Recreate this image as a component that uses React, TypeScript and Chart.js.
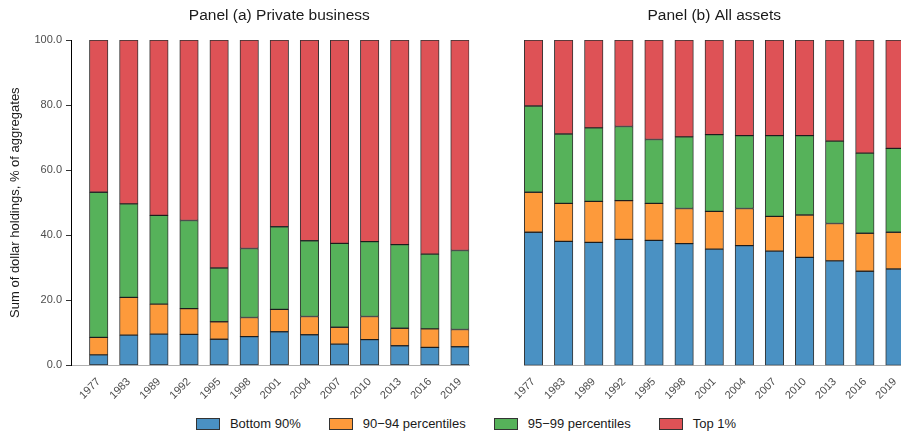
import React, { useEffect, useRef } from "react";
import { Chart, registerables } from "chart.js";

Chart.register(...registerables);
Chart.defaults.font.family = '"Liberation Sans", Arial, Helvetica, sans-serif';

// ---- data ----
const years = ["1977", "1983", "1989", "1992", "1995", "1998", "2001", "2004", "2007", "2010", "2013", "2016", "2019"];
const seriesNames = ["Bottom 90%", "90\u221294 percentiles", "95\u221299 percentiles", "Top 1%"];
const seriesColors = ["#4a91c3", "#fd9a3b", "#56b25a", "#de5256"];

// Panel (a) Private business (shares, % of aggregate)
const bizBottom90 = [3.2, 9.3, 9.6, 9.5, 8.0, 8.8, 10.3, 9.4, 6.5, 7.9, 6.0, 5.5, 5.7];
const biz90to94 = [5.4, 11.6, 9.2, 7.9, 5.4, 5.9, 6.9, 5.6, 5.2, 7.1, 5.4, 5.7, 5.3];
const biz95to99 = [44.6, 28.7, 27.3, 27.1, 16.5, 21.2, 25.4, 23.3, 25.8, 23.0, 25.7, 23.0, 24.3];
const bizTop1 = [46.8, 50.4, 53.9, 55.5, 70.1, 64.1, 57.4, 61.7, 62.5, 62.0, 62.9, 65.8, 64.7];

// Panel (b) All assets
const allBottom90 = [40.9, 38.1, 37.8, 38.7, 38.4, 37.4, 35.7, 36.8, 35.1, 33.2, 32.1, 28.9, 29.6];
const all90to94 = [12.3, 11.7, 12.6, 11.9, 11.4, 10.8, 11.6, 11.4, 10.7, 13.0, 11.5, 11.7, 11.3];
const all95to99 = [26.5, 21.3, 22.6, 22.8, 19.6, 22.0, 23.6, 22.4, 24.8, 24.4, 25.3, 24.6, 25.8];
const allTop1 = [20.3, 28.9, 27.0, 26.6, 30.6, 29.8, 29.1, 29.4, 29.4, 29.4, 31.1, 34.8, 33.3];

const yTicks = [0, 20, 40, 60, 80, 100];

type PanelProps = {
  title: string;
  series: number[][];
  showY: boolean;
  width: number;
  left: number;
  padLeft: number;
  padRight: number;
  xMin: number;
  xMax: number;
};

const CANVAS_H = 400;

function Panel(p: PanelProps) {
  const ref = useRef<HTMLCanvasElement | null>(null);
  useEffect(() => {
    if (!ref.current) return;
    const titlePlugin = {
      id: "panelTitle",
      afterDraw(chart: any) {
        const xs = chart.scales.x;
        const cx = (xs.getPixelForValue(0) + xs.getPixelForValue(years.length - 1)) / 2;
        const ctx = chart.ctx;
        ctx.save();
        ctx.font = '15.5px "Liberation Sans", Arial, sans-serif';
        ctx.fillStyle = "#1a1a1a";
        ctx.textAlign = "center";
        ctx.textBaseline = "alphabetic";
        ctx.fillText(p.title, cx, chart.chartArea.top - 20.5);
        ctx.restore();
      },
    };
    const chart = new Chart(ref.current, {
      type: "bar",
      data: {
        datasets: p.series.map((vals, k) => ({
          label: seriesNames[k],
          data: vals.map((v, i) => ({ x: i, y: v })),
          backgroundColor: seriesColors[k],
          borderColor: "rgba(0,0,0,0.8)",
          borderWidth: 1,
          borderSkipped: false,
          barThickness: 18.5,
        })),
      },
      options: {
        responsive: false,
        animation: false,
        layout: { autoPadding: false, padding: { left: p.padLeft, right: p.padRight, top: 40, bottom: 0 } },
        plugins: { legend: { display: false }, tooltip: { enabled: false }, title: { display: false } },
        scales: {
          x: {
            type: "linear",
            stacked: true,
            offset: false,
            min: p.xMin,
            max: p.xMax,
            afterBuildTicks: (s: any) => {
              s.ticks = years.map((_, i) => ({ value: i }));
            },
            afterFit: (s: any) => {
              s.height = CANVAS_H - 365.3;
            },
            grid: { display: false, offset: false },
            border: { display: true, color: "#b0b0b0", width: 1 },
            ticks: {
              autoSkip: false,
              maxRotation: 45,
              minRotation: 45,
              padding: 2,
              color: "#4d4d4d",
              font: { size: 11 },
              callback: (v: any) => years[Math.round(Number(v))] ?? "",
            },
          },
          y: {
            display: p.showY,
            stacked: true,
            min: 0,
            max: 100,
            afterBuildTicks: (s: any) => {
              s.ticks = yTicks.map((v) => ({ value: v }));
            },
            afterFit: (s: any) => {
              s.width = p.showY ? 71 : 0;
            },
            grid: { display: true, drawOnChartArea: false, drawTicks: true, tickLength: 5, color: "#333" },
            border: { display: true, color: "#000", width: 1 },
            ticks: {
              padding: 4,
              color: "#4d4d4d",
              font: { size: 11 },
              callback: (v: any) => Number(v).toFixed(1),
            },
            title: {
              display: true,
              text: "Sum of dollar holdings, % of aggregates",
              color: "#1a1a1a",
              font: { size: 13 },
              padding: { top: 8, bottom: 0 },
            },
          },
        },
      },
      plugins: [titlePlugin],
    } as any);
    return () => chart.destroy();
  }, []);
  return (
    <canvas
      ref={ref}
      width={p.width}
      height={CANVAS_H}
      style={{ position: "absolute", left: p.left, top: 0, width: p.width, height: CANVAS_H, display: "block" }}
    />
  );
}

function Legend() {
  return (
    <div
      style={{
        position: "absolute",
        left: 0,
        width: 932,
        top: 416,
        height: 16,
        display: "flex",
        justifyContent: "center",
        alignItems: "center",
        fontFamily: '"Liberation Sans", Arial, sans-serif',
        fontSize: 13,
        color: "#1a1a1a",
        lineHeight: "16px",
        whiteSpace: "nowrap",
      }}
    >
      {seriesNames.map((name, k) => (
        <div key={name} style={{ display: "flex", alignItems: "center", marginLeft: k === 0 ? 0 : 28 }}>
          <span
            style={{
              display: "inline-block",
              width: 22,
              height: 10,
              background: seriesColors[k],
              border: "1px solid #333",
              marginRight: 10,
            }}
          />
          <span>{name}</span>
        </div>
      ))}
    </div>
  );
}

export default function App() {
  return (
    <div
      style={{
        position: "fixed",
        left: 0,
        top: 0,
        width: 901,
        height: 431,
        overflow: "hidden",
        background: "#fff",
      }}
    >
      <Panel
        title="Panel (a) Private business"
        series={[bizBottom90, biz90to94, biz95to99, bizTop1]}
        showY={true}
        width={560}
        left={0}
        padLeft={0}
        padRight={560 - 469.3}
        xMin={-0.92}
        xMax={12.31}
      />
      <Panel
        title="Panel (b) All assets"
        series={[allBottom90, all90to94, all95to99, allTop1]}
        showY={false}
        width={480}
        left={480}
        padLeft={44}
        padRight={480 - 424.3}
        xMin={-0.316}
        xMax={12.31}
      />
      <Legend />
    </div>
  );
}
